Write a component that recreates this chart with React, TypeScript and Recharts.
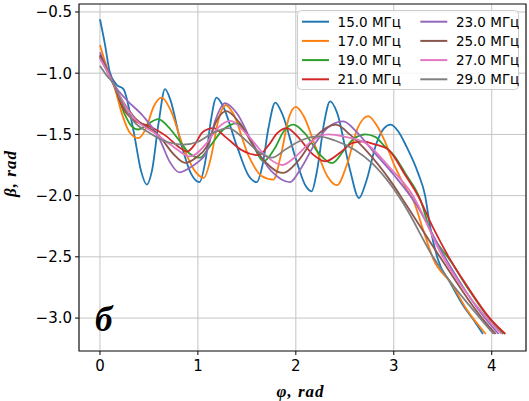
import React from 'react';
import { LineChart, Line, XAxis, YAxis, CartesianGrid, ReferenceArea, ReferenceDot, Legend } from 'recharts';

// [phi, beta] samples per frequency
const s15: [number, number][] = [[0,-0.56],[0.05,-0.76],[0.10,-0.99],[0.17,-1.095],[0.24,-1.13],[0.34,-1.46],[0.42,-1.80],[0.477,-1.91],[0.53,-1.80],[0.60,-1.40],[0.664,-1.13],[0.72,-1.22],[0.82,-1.55],[0.93,-1.82],[1.015,-1.89],[1.08,-1.70],[1.13,-1.40],[1.19,-1.20],[1.25,-1.26],[1.40,-1.60],[1.52,-1.84],[1.60,-1.89],[1.66,-1.75],[1.72,-1.45],[1.79,-1.24],[1.86,-1.33],[2.0,-1.70],[2.10,-1.92],[2.16,-1.965],[2.22,-1.78],[2.29,-1.40],[2.35,-1.23],[2.42,-1.32],[2.55,-1.78],[2.645,-2.02],[2.72,-1.88],[2.82,-1.58],[2.90,-1.45],[2.97,-1.42],[3.05,-1.48],[3.13,-1.60],[3.25,-1.82],[3.32,-2.0],[3.37,-2.25],[3.45,-2.52],[3.575,-2.71],[3.71,-2.90],[3.81,-3.01],[3.91,-3.13]];
const s17: [number, number][] = [[0,-0.77],[0.05,-0.90],[0.10,-1.02],[0.15,-1.12],[0.22,-1.32],[0.30,-1.48],[0.39,-1.53],[0.47,-1.45],[0.55,-1.27],[0.63,-1.20],[0.72,-1.30],[0.85,-1.60],[0.97,-1.80],[1.06,-1.855],[1.13,-1.70],[1.21,-1.38],[1.285,-1.26],[1.36,-1.33],[1.52,-1.68],[1.65,-1.84],[1.77,-1.87],[1.85,-1.66],[1.93,-1.36],[2.0,-1.275],[2.08,-1.35],[2.20,-1.60],[2.32,-1.84],[2.42,-1.915],[2.52,-1.75],[2.63,-1.45],[2.74,-1.35],[2.82,-1.42],[2.90,-1.54],[3.01,-1.76],[3.13,-1.95],[3.20,-2.04],[3.30,-2.28],[3.405,-2.52],[3.59,-2.72],[3.745,-2.93],[3.94,-3.13]];
const s19: [number, number][] = [[0,-0.87],[0.07,-0.98],[0.15,-1.11],[0.25,-1.33],[0.32,-1.43],[0.39,-1.46],[0.48,-1.42],[0.595,-1.375],[0.70,-1.44],[0.80,-1.54],[0.92,-1.66],[1.02,-1.69],[1.12,-1.60],[1.26,-1.46],[1.40,-1.41],[1.54,-1.55],[1.67,-1.72],[1.78,-1.62],[1.88,-1.47],[1.975,-1.42],[2.09,-1.49],[2.24,-1.66],[2.37,-1.735],[2.50,-1.62],[2.60,-1.53],[2.71,-1.50],[2.81,-1.52],[2.91,-1.60],[3.01,-1.68],[3.115,-1.815],[3.27,-2.03],[3.37,-2.28],[3.50,-2.45],[3.55,-2.50],[3.75,-2.75],[3.97,-3.0],[4.12,-3.13]];
const s21: [number, number][] = [[0,-0.86],[0.07,-0.97],[0.15,-1.11],[0.235,-1.28],[0.34,-1.38],[0.51,-1.435],[0.68,-1.516],[0.80,-1.60],[0.89,-1.64],[0.97,-1.58],[1.05,-1.48],[1.157,-1.448],[1.28,-1.52],[1.45,-1.63],[1.62,-1.67],[1.72,-1.59],[1.81,-1.49],[1.907,-1.448],[2.02,-1.52],[2.17,-1.66],[2.30,-1.72],[2.45,-1.65],[2.58,-1.57],[2.69,-1.557],[2.80,-1.58],[2.945,-1.625],[3.115,-1.83],[3.25,-2.005],[3.40,-2.26],[3.56,-2.50],[3.75,-2.74],[3.98,-3.0],[4.14,-3.13]];
const s23: [number, number][] = [[0,-0.83],[0.07,-0.96],[0.15,-1.10],[0.27,-1.217],[0.44,-1.35],[0.61,-1.54],[0.71,-1.72],[0.81,-1.81],[0.90,-1.78],[0.99,-1.733],[1.09,-1.64],[1.18,-1.38],[1.277,-1.244],[1.40,-1.33],[1.55,-1.56],[1.75,-1.80],[1.94,-1.89],[2.05,-1.78],[2.20,-1.57],[2.35,-1.43],[2.485,-1.394],[2.62,-1.48],[2.775,-1.625],[3.01,-1.84],[3.22,-2.06],[3.52,-2.50],[3.93,-3.0],[4.07,-3.13]];
const s25: [number, number][] = [[0,-0.85],[0.07,-0.97],[0.15,-1.11],[0.34,-1.35],[0.61,-1.516],[0.75,-1.66],[0.87,-1.733],[0.98,-1.69],[1.09,-1.60],[1.19,-1.39],[1.29,-1.31],[1.42,-1.40],[1.62,-1.66],[1.87,-1.815],[2.02,-1.72],[2.20,-1.52],[2.41,-1.42],[2.55,-1.50],[2.71,-1.625],[2.98,-1.896],[3.115,-2.06],[3.47,-2.50],[3.90,-3.0],[4.04,-3.13]];
const s27: [number, number][] = [[0,-0.88],[0.07,-0.98],[0.15,-1.11],[0.34,-1.36],[0.58,-1.50],[0.75,-1.60],[0.92,-1.68],[1.09,-1.57],[1.20,-1.45],[1.33,-1.39],[1.50,-1.50],[1.70,-1.68],[1.86,-1.75],[2.0,-1.68],[2.17,-1.55],[2.33,-1.50],[2.50,-1.52],[2.71,-1.57],[2.98,-1.79],[3.18,-1.98],[3.50,-2.50],[3.95,-3.0],[4.10,-3.13]];
const s29: [number, number][] = [[0,-0.94],[0.07,-1.02],[0.15,-1.10],[0.20,-1.20],[0.34,-1.39],[0.51,-1.49],[0.68,-1.56],[0.85,-1.584],[1.0,-1.56],[1.15,-1.49],[1.31,-1.448],[1.45,-1.52],[1.60,-1.63],[1.754,-1.69],[1.90,-1.62],[2.05,-1.55],[2.23,-1.516],[2.40,-1.55],[2.60,-1.625],[2.775,-1.733],[2.98,-1.924],[3.115,-2.087],[3.40,-2.50],[3.88,-3.0],[4.02,-3.13]];

const seriesNames = ['15.0 МГц', '17.0 МГц', '19.0 МГц', '21.0 МГц', '23.0 МГц', '25.0 МГц', '27.0 МГц', '29.0 МГц'];
const seriesColors = ['#1f77b4', '#ff7f0e', '#2ca02c', '#d62728', '#9467bd', '#8c564b', '#e377c2', '#7f7f7f'];
const seriesData = [s15, s17, s19, s21, s23, s25, s27, s29];

const xTicks = [0, 1, 2, 3, 4];
const yTicks = [-3.0, -2.5, -2.0, -1.5, -1.0, -0.5];
const xDomain: [number, number] = [-0.214, 4.35];
const yDomain: [number, number] = [-3.269, -0.435];

const panelLetter = 'б';
const panelPos = { x: -0.05, y: -3.108 };

const series = seriesNames.map((name, i) => ({
  name,
  color: seriesColors[i],
  data: seriesData[i].map(([phi, beta]) => ({ phi, beta })),
}));

const fmtY = (v: number) => v.toFixed(1).replace('-', '\u2212');

const labelFont = {
  fontFamily: 'Liberation Serif',
  fontStyle: 'italic',
  fontWeight: 'bold',
  fontSize: 17,
  letterSpacing: 1,
  fill: '#000',
} as const;

const LegendBox = () => (
  <svg width={222} height={80} style={{ display: 'block' }}>
    <rect x={0.5} y={0.5} width={221} height={79} rx={4} ry={4} fill="rgba(255,255,255,0.85)" stroke="#cccccc" />
    {series.map((s, i) => {
      const col = Math.floor(i / 4);
      const row = i % 4;
      const cy = 11.7 + row * 19.2;
      const lx = col === 0 ? 5 : 123.3;
      return (
        <g key={s.name}>
          <line x1={lx} x2={lx + 27} y1={cy} y2={cy} stroke={s.color} strokeWidth={2} />
          <text x={lx + 35.6} y={cy} dominantBaseline="central" fontSize={13.5} fontFamily="DejaVu Sans" fill="#000">{s.name}</text>
        </g>
      );
    })}
  </svg>
);

const YLabel = (props: any) => {
  const vb = props.viewBox || { x: 0, y: 4, width: 79, height: 347 };
  const x = vb.x + 16;
  const y = vb.y + vb.height / 2 - 4;
  return (
    <text x={x} y={y} transform={`rotate(-90 ${x} ${y})`} textAnchor="middle" {...labelFont}>β, rad</text>
  );
};

const XLabel = (props: any) => {
  const vb = props.viewBox || { x: 79, y: 351, width: 447, height: 50 };
  return (
    <text x={vb.x + vb.width / 2 - 2} y={vb.y + vb.height - 4.3} textAnchor="middle" {...labelFont}>φ, rad</text>
  );
};

export default function App() {
  return (
    <div style={{ position: 'absolute', left: 0, top: 0, width: 529, height: 401, background: '#fff' }}>
      <LineChart width={529} height={401} margin={{ top: 4, right: 3, left: 0, bottom: 0 }} style={{ fontFamily: 'DejaVu Sans' }}>
        <CartesianGrid stroke="#c4c4c4" strokeWidth={1} />
        <XAxis
          dataKey="phi"
          type="number"
          domain={xDomain}
          ticks={xTicks}
          allowDataOverflow
          height={50}
          axisLine={false}
          tickSize={4}
          tickMargin={5}
          tickLine={{ stroke: '#000' }}
          tick={{ fill: '#000', fontSize: 15, fontFamily: 'DejaVu Sans' }}
          label={<XLabel />}
        />
        <YAxis
          dataKey="beta"
          type="number"
          domain={yDomain}
          ticks={yTicks}
          allowDataOverflow
          width={79}
          axisLine={false}
          tickSize={4}
          tickMargin={3}
          tickLine={{ stroke: '#000' }}
          tick={{ fill: '#000', fontSize: 15, fontFamily: 'DejaVu Sans' }}
          tickFormatter={fmtY}
          label={<YLabel />}
        />
        {series.map((s) => (
          <Line
            key={s.name}
            data={s.data}
            dataKey="beta"
            name={s.name}
            type="monotone"
            stroke={s.color}
            strokeWidth={1.8}
            dot={false}
            activeDot={false}
            isAnimationActive={false}
          />
        ))}
        <ReferenceArea x1={xDomain[0]} x2={xDomain[1]} y1={yDomain[0]} y2={yDomain[1]} fill="none" stroke="#222" strokeWidth={1.2} ifOverflow="visible" />
        <ReferenceDot
          x={panelPos.x}
          y={panelPos.y}
          r={0}
          ifOverflow="visible"
          shape={(p: any) => (
            <text x={p.cx} y={p.cy} fontFamily="Liberation Serif" fontStyle="italic" fontWeight="bold" fontSize={35} fill="#000">{panelLetter}</text>
          )}
        />
        <Legend
          layout="vertical"
          align="center"
          verticalAlign="middle"
          content={() => <LegendBox />}
          wrapperStyle={{ left: 296.7, top: 10, width: 222, height: 80, right: 'auto', bottom: 'auto' }}
        />
      </LineChart>
    </div>
  );
}
